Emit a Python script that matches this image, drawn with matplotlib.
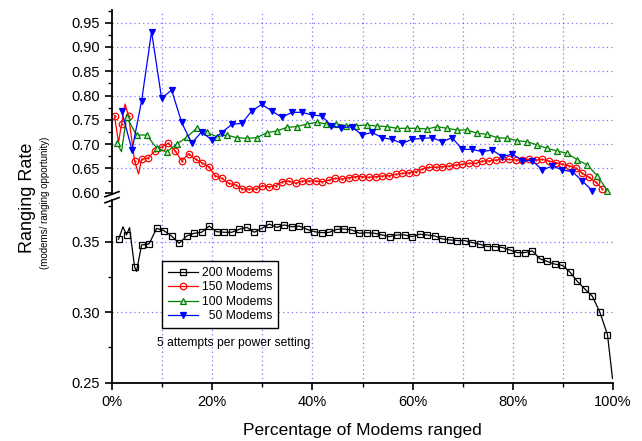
import matplotlib
matplotlib.use('Agg')
import matplotlib.pyplot as plt
from matplotlib.lines import Line2D
from matplotlib.ticker import MultipleLocator, FuncFormatter

plt.rcParams['font.family'] = ['Liberation Sans', 'DejaVu Sans']

# 200 modems (lower panel); a few early points carry no marker
pct200 = [1.3, 2.2, 2.9, 3.5, 4.5, 4.9, 5.9, 7.4, 8.9, 10.4, 11.9, 13.4, 14.9, 16.4, 17.9, 19.4,
          20.9, 22.4, 23.9, 25.4, 26.9, 28.4, 29.9, 31.4, 32.9, 34.4, 35.9, 37.4, 38.9, 40.4, 41.9,
          43.4, 44.9, 46.4, 47.9, 49.4, 50.9, 52.4, 53.9, 55.4, 56.9, 58.4, 59.9, 61.4, 62.9, 64.4,
          65.9, 67.4, 68.9, 70.4, 71.9, 73.4, 74.9, 76.4, 77.9, 79.4, 80.9, 82.4, 83.9, 85.4, 86.9,
          88.4, 89.9, 91.4, 92.9, 94.4, 95.9, 97.4, 98.9, 99.9]
val200 = [0.3517, 0.3606, 0.3548, 0.3600, 0.3323, 0.3290, 0.3477, 0.3484, 0.3595, 0.3578, 0.3540,
          0.3489, 0.3540, 0.3560, 0.3567, 0.3611, 0.3571, 0.3567, 0.3567, 0.3588, 0.3602, 0.3567,
          0.3595, 0.3625, 0.3602, 0.3619, 0.3606, 0.3611, 0.3588, 0.3571, 0.3564, 0.3567, 0.3588,
          0.3590, 0.3583, 0.3560, 0.3564, 0.3560, 0.3548, 0.3536, 0.3548, 0.3548, 0.3536, 0.3553,
          0.3548, 0.3541, 0.3520, 0.3513, 0.3508, 0.3508, 0.3494, 0.3482, 0.3466, 0.3466, 0.3459,
          0.3442, 0.3423, 0.3423, 0.3435, 0.3379, 0.3360, 0.3341, 0.3332, 0.3285, 0.3218, 0.3164,
          0.3112, 0.2998, 0.2840, 0.2530]
nomark200 = [1, 3, 5, 69]

# 150 modems
pct150 = [0.5, 1.3, 1.9, 2.6, 3.3, 4.5, 5.3, 5.9, 7.2, 8.6, 10.0, 11.2, 12.6, 13.9, 15.3, 16.7,
          17.9, 19.3, 20.6, 21.9, 23.3, 24.7, 26.0, 27.3, 28.7, 30.0, 31.3, 32.7, 34.0, 35.3, 36.7,
          38.0, 39.3, 40.7, 42.0, 43.3, 44.6, 45.9, 47.3, 48.6, 49.9, 51.3, 52.6, 53.9, 55.3, 56.6,
          57.9, 59.3, 60.6, 61.9, 63.3, 64.6, 65.9, 67.3, 68.6, 69.9, 71.2, 72.6, 73.9, 75.2, 76.6,
          77.9, 79.2, 80.6, 81.9, 83.2, 84.6, 85.9, 87.2, 88.6, 89.9, 91.2, 92.6, 93.9, 95.2, 96.6,
          97.9]
val150 = [0.7585, 0.7030, 0.7414, 0.7825, 0.7585, 0.6659, 0.6385, 0.6686, 0.6714, 0.6865, 0.6947,
          0.7016, 0.6865, 0.6659, 0.6796, 0.6686, 0.6618, 0.6535, 0.6350, 0.6295, 0.6192, 0.6158,
          0.6075, 0.6075, 0.6075, 0.6144, 0.6124, 0.6144, 0.6226, 0.6240, 0.6192, 0.6240, 0.6240,
          0.6240, 0.6226, 0.6260, 0.6295, 0.6280, 0.6310, 0.6330, 0.6330, 0.6316, 0.6330, 0.6343,
          0.6350, 0.6377, 0.6398, 0.6412, 0.6432, 0.6487, 0.6522, 0.6522, 0.6535, 0.6549, 0.6570,
          0.6583, 0.6604, 0.6604, 0.6652, 0.6652, 0.6673, 0.6686, 0.6686, 0.6673, 0.6673, 0.6686,
          0.6673, 0.6686, 0.6652, 0.6618, 0.6583, 0.6556, 0.6502, 0.6398, 0.6316, 0.6213, 0.6076]
nomark150 = [1, 3, 6]

# 100 modems
pct100 = [0.9, 1.9, 2.9, 4.9, 6.9, 8.9, 10.9, 12.9, 14.9, 16.9, 18.9, 20.9, 22.9, 24.9, 26.9, 28.9,
          30.9, 32.9, 34.9, 36.9, 38.9, 40.9, 42.8, 44.8, 46.8, 48.8, 50.8, 52.8, 54.9, 56.9, 58.9,
          60.9, 62.9, 64.9, 66.9, 68.9, 70.9, 72.9, 74.9, 76.9, 78.9, 80.9, 82.9, 84.9, 86.9, 88.9,
          90.9, 92.9, 94.9, 96.9, 98.9]
val100 = [0.7030, 0.6844, 0.7560, 0.7187, 0.7187, 0.6920, 0.6840, 0.7000, 0.7140, 0.7325, 0.7242,
          0.7153, 0.7187, 0.7133, 0.7120, 0.7133, 0.7235, 0.7270, 0.7345, 0.7360, 0.7414, 0.7450,
          0.7414, 0.7414, 0.7380, 0.7380, 0.7393, 0.7373, 0.7359, 0.7325, 0.7325, 0.7325, 0.7311,
          0.7359, 0.7325, 0.7290, 0.7290, 0.7222, 0.7201, 0.7132, 0.7119, 0.7071, 0.7050, 0.6981,
          0.6912, 0.6858, 0.6810, 0.6673, 0.6570, 0.6343, 0.6041]
nomark100 = [1]

# 50 modems
pct50 = [1.9, 4.0, 5.9, 7.9, 9.9, 11.9, 13.9, 15.9, 17.9, 19.9, 21.9, 23.9, 25.9, 27.9, 29.9, 31.9,
         33.9, 35.9, 37.9, 39.9, 41.9, 43.8, 45.8, 47.9, 49.9, 51.9, 53.9, 55.9, 57.9, 59.9, 61.9,
         63.9, 65.9, 67.9, 69.9, 71.9, 73.9, 75.9, 77.9, 79.9, 81.9, 83.9, 85.9, 87.9, 89.9, 91.9,
         93.9, 95.9]
val50 = [0.7682, 0.6879, 0.7887, 0.9315, 0.7942, 0.8114, 0.7448, 0.7016, 0.7256, 0.7084, 0.7235,
         0.7407, 0.7428, 0.7682, 0.7819, 0.7682, 0.7551, 0.7654, 0.7654, 0.7600, 0.7580, 0.7373,
         0.7338, 0.7359, 0.7187, 0.7242, 0.7132, 0.7098, 0.7016, 0.7098, 0.7119, 0.7132, 0.7050,
         0.7132, 0.6892, 0.6892, 0.6844, 0.6879, 0.6741, 0.6796, 0.6659, 0.6659, 0.6467, 0.6549,
         0.6467, 0.6432, 0.6240, 0.6034]

W, H = 642, 441


def px(x0, y0, x1, y1):
    # axes rectangle from pixel box
    return [x0 / W, 1 - y1 / H, (x1 - x0) / W, (y1 - y0) / H]


def marked(n, skip):
    return [i for i in range(n) if i not in skip]


fig = plt.figure(figsize=(W / 100, H / 100), dpi=100)
ax_top = fig.add_axes(px(112, 10, 613, 194))
ax_bot = fig.add_axes(px(112, 200, 613, 382.7))

grid_kw = dict(color='#4a4aff', linestyle=(0, (1, 2.5)), linewidth=0.9, alpha=0.75)

for ax in (ax_top, ax_bot):
    ax.set_xlim(0, 100)
    for s in ('top', 'right'):
        ax.spines[s].set_visible(False)
    ax.spines['left'].set_linewidth(1.3)
    ax.spines['bottom'].set_linewidth(1.3)
    ax.xaxis.set_major_locator(MultipleLocator(20))
    ax.xaxis.set_minor_locator(MultipleLocator(10))
    ax.yaxis.set_minor_locator(MultipleLocator(0.025))
    ax.tick_params(which='major', direction='out', length=5, width=1.2, labelsize=10.5, pad=4)
    ax.tick_params(which='minor', direction='out', length=3, width=1.0)
    for g in range(10, 100, 10):
        ax.axvline(g, zorder=0, **grid_kw)

ax_top.set_ylim(0.5973, 0.9761)
ax_top.yaxis.set_major_locator(MultipleLocator(0.05))
ax_top.spines['bottom'].set_visible(False)
ax_top.tick_params(axis='x', which='both', bottom=False, labelbottom=False)
for g in [0.65, 0.70, 0.75, 0.80, 0.85, 0.90, 0.95]:
    ax_top.axhline(g, zorder=0, **grid_kw)

ax_bot.set_ylim(0.25, 0.3796)
ax_bot.yaxis.set_major_locator(MultipleLocator(0.05))
for g in [0.30, 0.35]:
    ax_bot.axhline(g, zorder=0, **grid_kw)

fmt2 = FuncFormatter(lambda v, p: f'{v:.2f}')
ax_top.yaxis.set_major_formatter(fmt2)
ax_bot.yaxis.set_major_formatter(fmt2)
ax_bot.xaxis.set_major_formatter(FuncFormatter(lambda v, p: f'{v:.0f}%'))

h200, = ax_bot.plot(pct200, val200, color='black', lw=0.9, marker='s', ms=4.2, mfc='none', mew=0.9,
                    markevery=marked(len(pct200), nomark200), label='200 Modems')
h150, = ax_top.plot(pct150, val150, color='#ff0000', lw=0.9, marker='o', ms=4.7, mfc='none', mew=0.9,
                    markevery=marked(len(pct150), nomark150), label='150 Modems')
ax_top.plot(pct150, val150, ls='none', marker='.', ms=1.3, color='#ff0000',
            markevery=marked(len(pct150), nomark150))
h100, = ax_top.plot(pct100, val100, color='#008000', lw=0.9, marker='^', ms=4.8, mfc='#cce8cc', mew=0.9,
                    markevery=marked(len(pct100), nomark100), label='100 Modems')
h50, = ax_top.plot(pct50, val50, color='#0000ff', lw=0.9, marker='v', ms=5, mfc='#0000ff', mew=0.9,
                   label='  50 Modems')

leg = ax_bot.legend(handles=[h200, h150, h100, h50], loc='upper left',
                    bbox_to_anchor=(156 / W, 1 - 255 / H), bbox_transform=fig.transFigure,
                    fontsize=8.7, handlelength=2.5, labelspacing=0.2, borderpad=0.5,
                    handletextpad=0.3, fancybox=False, framealpha=1)
leg.get_frame().set_edgecolor('black')
leg.get_frame().set_linewidth(1.0)

fig.text(157 / W, 1 - 343 / H, '5 attempts per power setting', fontsize=8.7, va='center', ha='left')

# axis break marks
for yc in (194.2, 200.2):
    fig.add_artist(Line2D([105 / W, 119 / W], [1 - (yc + 2.6) / H, 1 - (yc - 2.6) / H],
                          color='black', lw=1.2))

fig.text(27 / W, 1 - 198 / H, 'Ranging Rate', rotation=90, fontsize=13, ha='center', va='center')
fig.text(45 / W, 1 - 203 / H, '(modems/ ranging opportunity)', rotation=90, fontsize=7,
         ha='center', va='center')
fig.text(362 / W, 1 - 430 / H, 'Percentage of Modems ranged', fontsize=12.5, ha='center', va='center')

fig.savefig('out.png', dpi=100)
